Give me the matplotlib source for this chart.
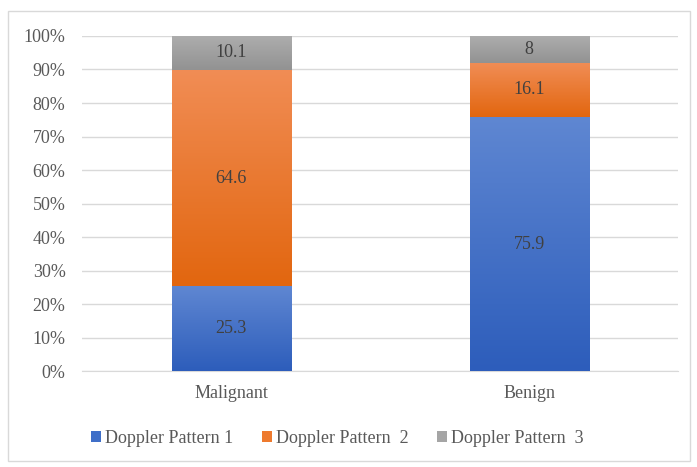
import numpy as np
import matplotlib.pyplot as plt
from matplotlib.colors import LinearSegmentedColormap
from matplotlib.patches import Rectangle, Patch

categories = ["Malignant", "Benign"]
series_names = ["Doppler Pattern 1", "Doppler Pattern  2", "Doppler Pattern  3"]
pattern1 = [25.3, 75.9]
pattern2 = [64.6, 16.1]
pattern3 = [10.1, 8]
y_ticks = [0, 10, 20, 30, 40, 50, 60, 70, 80, 90, 100]

# gradient stops (top, bottom) and legend swatch colour per series
gradients = [("#5f87d2", "#2d5dbb"), ("#f18d55", "#e2660f"), ("#adadad", "#929292")]
swatch = ["#3f6fc8", "#ee7a2e", "#a5a5a5"]

plt.rcParams["font.family"] = ["Liberation Serif", "DejaVu Serif"]
text_color = "#595959"

fig = plt.figure(figsize=(6.97, 4.67), dpi=100)
ax = fig.add_axes([0.118, 0.205, 0.855, 0.718])

# outer chart border
fig.patches.append(Rectangle((0.012, 0.012), 0.978, 0.964, transform=fig.transFigure,
                             fill=False, edgecolor="#d9d9d9", linewidth=1.0))

x = np.arange(len(categories))
width = 0.4
series = [pattern1, pattern2, pattern3]
bottoms = np.zeros(len(categories))

for vals, (c_top, c_bot) in zip(series, gradients):
    cmap = LinearSegmentedColormap.from_list("g", [c_bot, c_top])
    bars = ax.bar(x, vals, width, bottom=bottoms, color="none", edgecolor="none", zorder=3)
    for bar, v, b in zip(bars, vals, bottoms):
        x0 = bar.get_x()
        grad = np.linspace(0, 1, 256).reshape(-1, 1)
        im = ax.imshow(grad, cmap=cmap, origin="lower", aspect="auto",
                       extent=(x0, x0 + width, b, b + v), zorder=3)
        im.set_clip_path(bar)
        ax.text(bar.get_x() + width / 2, b + v / 2, f"{v:g}", ha="center", va="center",
                fontsize=13, color="#404040", zorder=4)
    bottoms = bottoms + np.array(vals)

ax.set_xlim(-0.5, 1.5)
ax.set_ylim(0, 100)
ax.set_yticks(y_ticks)
ax.set_yticklabels([f"{t}%" for t in y_ticks])
ax.set_xticks(x)
ax.set_xticklabels(categories)
ax.yaxis.grid(True, color="#d9d9d9", linewidth=1.0, zorder=0)
ax.set_axisbelow(True)
for s in ["left", "right", "top"]:
    ax.spines[s].set_visible(False)
ax.spines["bottom"].set_color("#d9d9d9")
ax.tick_params(axis="both", length=0, labelsize=13, colors=text_color)
ax.tick_params(axis="y", pad=12)
ax.tick_params(axis="x", pad=10)

handles = [Patch(facecolor=c, edgecolor="none") for c in swatch]
fig.legend(handles, series_names, loc="center", bbox_to_anchor=(0.484, 0.062), ncol=3,
           frameon=False, fontsize=13, handlelength=0.55, handleheight=0.55,
           handletextpad=0.2, columnspacing=1.6, labelcolor=text_color)

fig.savefig("out.png", dpi=100)
